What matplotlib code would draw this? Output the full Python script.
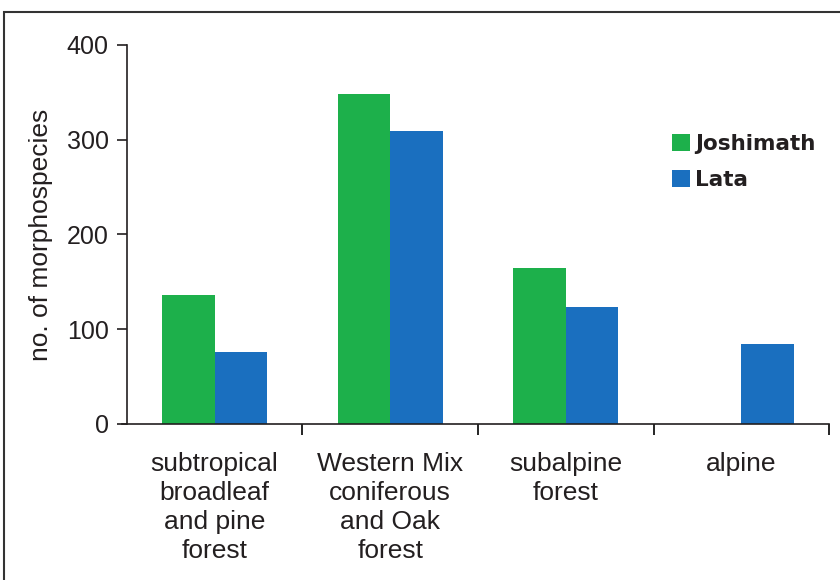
import matplotlib.pyplot as plt
from matplotlib.patches import Rectangle, Patch
import numpy as np

# forest types and morphospecies counts
categories = ['subtropical\nbroadleaf\nand pine\nforest',
              'Western Mix\nconiferous\nand Oak\nforest',
              'subalpine\nforest',
              'alpine']
joshimath = [136, 348, 165, 0]
lata = [76, 309, 123, 84]

green = '#1db04b'
blue = '#1a6fbf'
txt = '#231f20'

plt.rcParams['font.family'] = ['Liberation Sans', 'DejaVu Sans']

fig = plt.figure(figsize=(8.4, 5.8), dpi=100)
# outer frame around the figure
fig.patches.append(Rectangle((4 / 840, -0.05), 1.0, 1 - 12 / 580 + 0.05,
                             transform=fig.transFigure, fill=False,
                             edgecolor='#333333', linewidth=1.5))

ax = fig.add_axes([0.151, 0.269, 0.836, 0.6535])

x = np.arange(len(categories))
w = 0.3
ax.bar(x - w / 2, joshimath, w, color=green, label='Joshimath')
ax.bar(x + w / 2, lata, w, color=blue, label='Lata')

ax.set_xlim(-0.5, 3.5)
ax.set_ylim(0, 400)
ax.set_yticks([0, 100, 200, 300, 400])
ax.set_xticks([0.5, 1.5, 2.5, 3.5])
ax.set_xticklabels([])
ax.tick_params(axis='y', direction='out', length=7, width=1.2, labelsize=18,
               colors=txt, pad=6)
ax.tick_params(axis='x', direction='out', length=8, width=1.2)

for i, lab in enumerate(categories):
    ax.text(i, -30, lab, ha='center', va='top', fontsize=19, color=txt,
            linespacing=1.25)

ax.spines['top'].set_visible(False)
ax.spines['right'].set_visible(False)
for s in ['left', 'bottom']:
    ax.spines[s].set_linewidth(1.2)
    ax.spines[s].set_color(txt)
ax.spines['bottom'].set_bounds(-0.53, 3.5)

ax.set_ylabel('no. of morphospecies', fontsize=19, color=txt, labelpad=10)

handles = [Patch(facecolor=green, label='Joshimath'),
           Patch(facecolor=blue, label='Lata')]
leg = ax.legend(handles=handles, loc='upper left', bbox_to_anchor=(0.776, 0.765),
                frameon=False, handlelength=0.85, handleheight=0.85,
                handletextpad=0.25, labelspacing=0.75, borderpad=0,
                borderaxespad=0,
                prop={'family': 'DejaVu Sans', 'size': 15.5, 'weight': 'bold'})
for t in leg.get_texts():
    t.set_color(txt)

fig.savefig('out.png', dpi=100)
